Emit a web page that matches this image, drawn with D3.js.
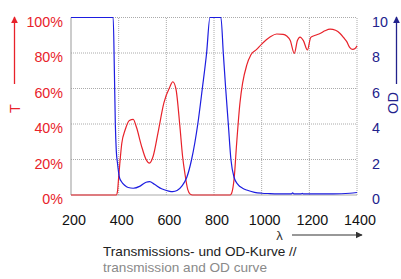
<!DOCTYPE html>
<html>
<head>
<meta charset="utf-8">
<script src="https://d3js.org/d3.v7.min.js"></script>
<style>
  body { margin: 0; background: #fff; }
  svg { display: block; font-family: "Liberation Sans", Arial, sans-serif; }
</style>
</head>
<body>
<div id="chart"></div>
<script>
// transmission curve (T in %), wavelength in nm
var tWave = [200, 390, 395, 400, 405, 413, 427, 445, 461, 475, 495, 515, 529, 545, 565, 590, 615, 627, 640, 657, 668, 678, 690, 700, 710,
    868, 874, 885, 895, 909, 920, 937, 955, 979, 1000, 1035, 1063, 1090, 1105, 1120, 1137, 1150, 1161, 1175, 1192, 1206, 1225, 1245, 1265,
    1287, 1310, 1329, 1345, 1357, 1370, 1382, 1392, 1400];
var tValues = [0, 0, 2, 10, 18, 29, 36.6, 42, 42.6, 38, 28, 20, 18, 22, 35, 52, 61, 63.8, 60, 38.5, 22, 12, 3, 0.5, 0,
    0, 1, 10, 29, 52, 63, 73, 79, 82, 85, 89, 90.7, 90.5, 89.6, 87, 79.8, 87, 89, 87, 81.7, 88.8, 90, 91, 92.5,
    93.5, 92.8, 91, 88.5, 86.4, 83, 82, 82.5, 84];

// optical density curve
var odWave = [200, 377, 382, 386, 390, 395, 403, 412, 425, 440, 461, 490, 515, 530, 550, 580, 610, 627, 645, 665, 686, 706, 732, 751, 769, 783,
    829, 839, 849, 860, 871, 884, 900, 920, 937, 970, 1000, 1035, 1100, 1125, 1130, 1135, 1165, 1170, 1175, 1300, 1370, 1400];
var odValues = [10, 10, 7, 4, 2.5, 1.8, 1.0, 0.75, 0.55, 0.42, 0.38, 0.5, 0.72, 0.75, 0.6, 0.35, 0.22, 0.19, 0.25, 0.5, 1.0, 2, 4, 6, 8, 10,
    10, 8, 6, 4, 2, 1.0, 0.6, 0.38, 0.28, 0.15, 0.1, 0.08, 0.06, 0.06, 0.12, 0.06, 0.06, 0.1, 0.06, 0.06, 0.1, 0.14];

var xTicks = [200, 400, 600, 800, 1000, 1200, 1400];
var tTicks = [0, 20, 40, 60, 80, 100];
var odTicks = [0, 2, 4, 6, 8, 10];
var titleDe = "Transmissions- und OD-Kurve //";
var titleEn = "transmission and OD curve";

var width = 401, height = 279;
var red = "#e8222a", blue = "#1d1de0", navy = "#22228c";

var svg = d3.select("#chart").append("svg")
    .attr("width", width)
    .attr("height", height);

var x = d3.scaleLinear().domain([200, 1400]).range([71, 357]);
var yT = d3.scaleLinear().domain([0, 100]).range([195, 17.5]);
var yOD = d3.scaleLinear().domain([0, 10]).range([195, 17.5]);

// dotted grid
svg.append("g").selectAll("line")
    .data(tTicks.slice(1))
    .enter().append("line")
    .attr("x1", x(200)).attr("x2", x(1400))
    .attr("y1", d => yT(d)).attr("y2", d => yT(d))
    .attr("stroke", "#aaa").attr("stroke-dasharray", "1,1");
svg.append("g").selectAll("line")
    .data(xTicks.slice(1))
    .enter().append("line")
    .attr("x1", d => x(d)).attr("x2", d => x(d))
    .attr("y1", yT(0)).attr("y2", yT(100))
    .attr("stroke", "#aaa").attr("stroke-dasharray", "1,1");
svg.append("line")
    .attr("x1", x(200)).attr("x2", x(200))
    .attr("y1", yT(0)).attr("y2", yT(100))
    .attr("stroke", "#999");
svg.append("line")
    .attr("x1", x(200)).attr("x2", x(1400))
    .attr("y1", yT(0)).attr("y2", yT(0))
    .attr("stroke", "#aaa");

// axes (labels only)
var fs = "14.3px";
var leftAxis = svg.append("g")
    .attr("transform", "translate(" + x(200) + ",0)")
    .call(d3.axisLeft(yT).tickValues(tTicks).tickSize(0).tickPadding(8).tickFormat(d => d + "%"));
var rightAxis = svg.append("g")
    .attr("transform", "translate(" + x(1400) + ",0)")
    .call(d3.axisRight(yOD).tickValues(odTicks).tickSize(0).tickPadding(15).tickFormat(d3.format("d")));
var bottomAxis = svg.append("g")
    .attr("transform", "translate(2.5," + yT(0) + ")")
    .call(d3.axisBottom(x).tickValues(xTicks).tickSize(0).tickPadding(0).tickFormat(d3.format("d")));

[leftAxis, rightAxis, bottomAxis].forEach(function (a) {
    a.select(".domain").remove();
    a.selectAll("text").attr("font-size", fs).attr("font-family", null);
});
leftAxis.selectAll("text").attr("fill", red).attr("dy", "0.62em");
rightAxis.selectAll("text").attr("fill", navy).attr("dy", "0.62em");
bottomAxis.selectAll("text").attr("fill", "#111").attr("dy", "2.08em");

// curves
var tData = tWave.map((w, i) => [w, tValues[i]]);
var odData = odWave.map((w, i) => [w, odValues[i]]);

svg.append("path")
    .datum(tData)
    .attr("fill", "none")
    .attr("stroke", red)
    .attr("stroke-width", 1.2)
    .attr("d", d3.line().x(d => x(d[0])).y(d => yT(d[1])).curve(d3.curveMonotoneX));

svg.append("path")
    .datum(odData)
    .attr("fill", "none")
    .attr("stroke", blue)
    .attr("stroke-width", 1.2)
    .attr("d", d3.line().x(d => x(d[0])).y(d => yOD(d[1])).curve(d3.curveMonotoneX));

// axis titles with arrows
var defs = svg.append("defs");
function marker(id, color) {
    defs.append("marker")
        .attr("id", id)
        .attr("viewBox", "0 0 10 10")
        .attr("refX", 9).attr("refY", 5)
        .attr("markerWidth", 7).attr("markerHeight", 7)
        .attr("markerUnits", "userSpaceOnUse")
        .attr("orient", "auto")
        .append("path")
        .attr("d", "M0,0L10,5L0,10z")
        .attr("fill", color);
}
marker("arrRed", red);
marker("arrNavy", navy);
marker("arrDark", "#333");

svg.append("line")
    .attr("x1", 14.5).attr("x2", 14.5).attr("y1", 84).attr("y2", 17)
    .attr("stroke", red).attr("stroke-width", 1.3)
    .attr("marker-end", "url(#arrRed)");
svg.append("text")
    .attr("transform", "translate(20,108.5) rotate(-90)")
    .attr("text-anchor", "middle")
    .attr("fill", red)
    .attr("font-size", "14.5px")
    .text("T");

svg.append("line")
    .attr("x1", 396.5).attr("x2", 396.5).attr("y1", 84).attr("y2", 17)
    .attr("stroke", navy).attr("stroke-width", 1.3)
    .attr("marker-end", "url(#arrNavy)");
svg.append("text")
    .attr("transform", "translate(398,103) rotate(-90)")
    .attr("text-anchor", "middle")
    .attr("fill", navy)
    .attr("font-size", "14.5px")
    .text("OD");

svg.append("text")
    .attr("x", 279.5).attr("y", 240)
    .attr("text-anchor", "middle")
    .attr("fill", "#333")
    .attr("font-size", "13px")
    .text("λ");
svg.append("line")
    .attr("x1", 292).attr("x2", 362).attr("y1", 235).attr("y2", 235)
    .attr("stroke", "#333").attr("stroke-width", 1.2)
    .attr("marker-end", "url(#arrDark)");

// caption
svg.append("text")
    .attr("x", 103).attr("y", 256)
    .attr("fill", "#222")
    .attr("font-size", "13.6px")
    .text(titleDe);
svg.append("text")
    .attr("x", 103).attr("y", 271.5)
    .attr("fill", "#8a8a8a")
    .attr("font-size", "13.6px")
    .text(titleEn);
</script>
</body>
</html>
